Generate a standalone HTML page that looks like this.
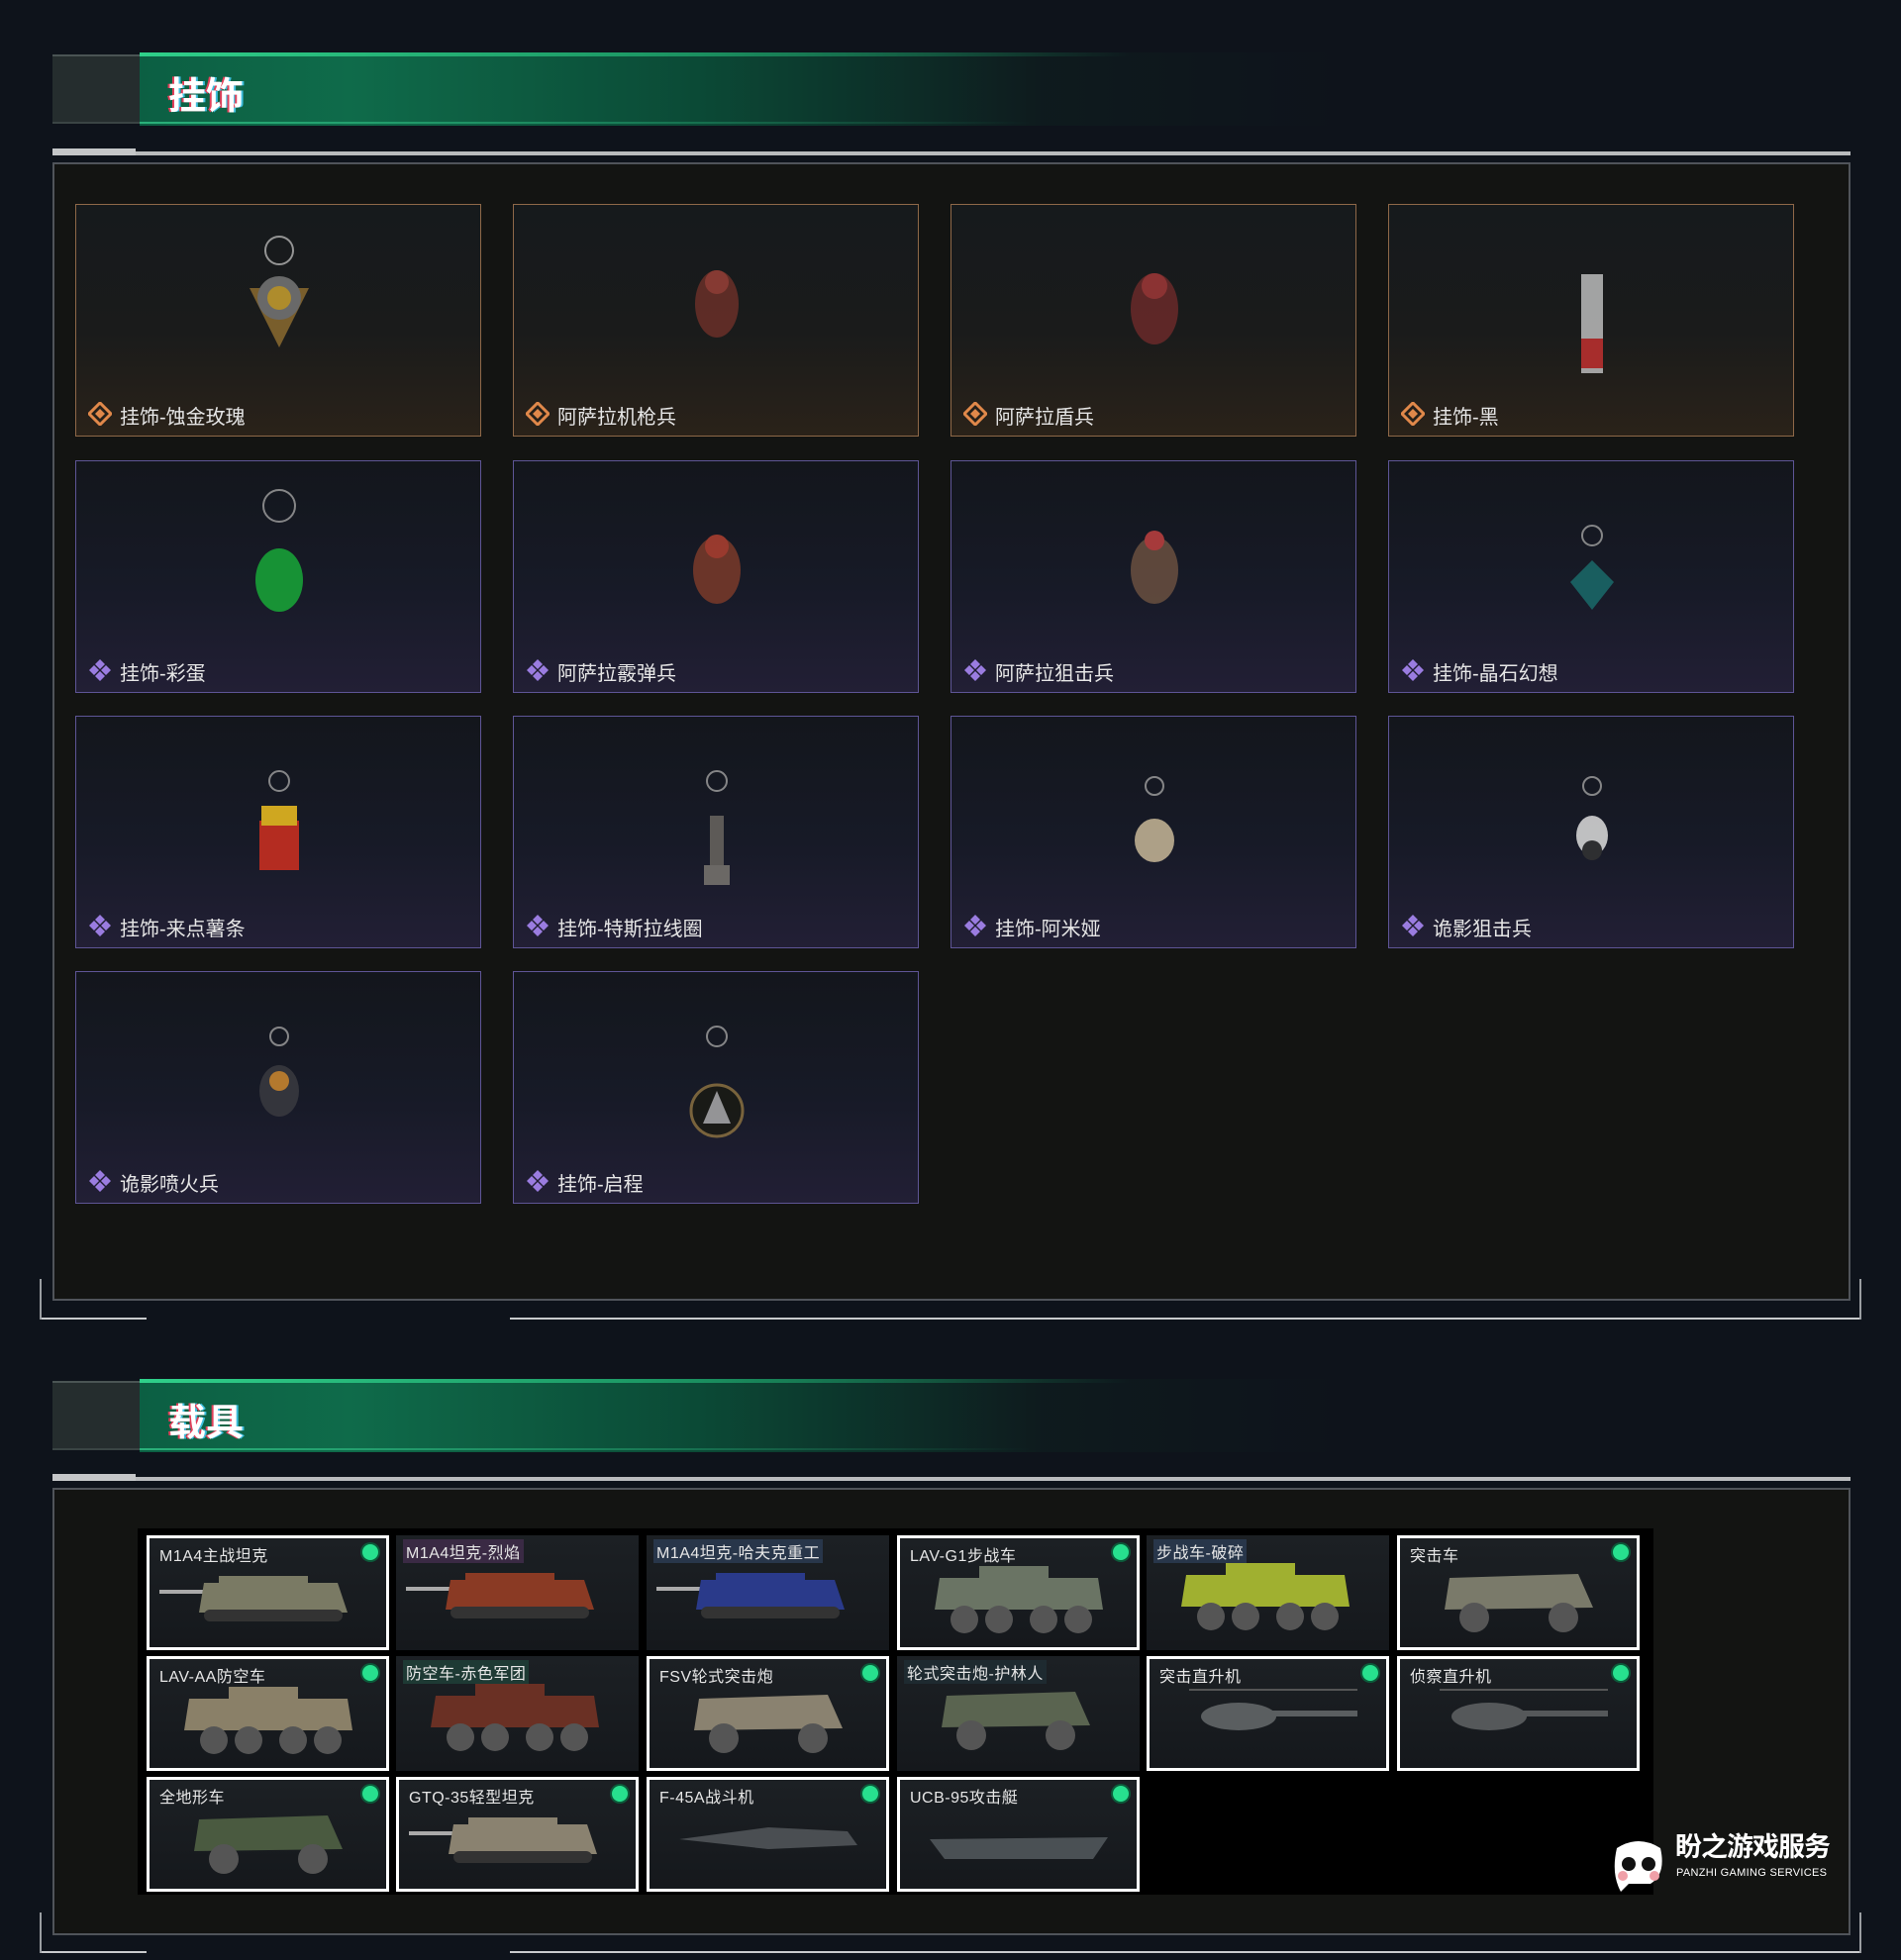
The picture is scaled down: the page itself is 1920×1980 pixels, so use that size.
<!DOCTYPE html>
<html><head><meta charset="utf-8">
<style>
*{margin:0;padding:0;box-sizing:border-box}
body{width:1920px;height:1980px;background:#0e131b;position:relative;overflow:hidden;font-family:"Liberation Sans","Noto Sans CJK SC",sans-serif;color:#e8e8e8}
.abs{position:absolute}
.hdr{position:absolute;left:53px;width:1602px;height:74px;background:linear-gradient(90deg,rgba(0,0,0,0) 0,rgba(0,0,0,0) 88px,#0c5f43 88px,#0f6b4a 300px,#0b4a36 650px,rgba(14,40,34,.35) 1000px,rgba(14,19,27,0) 1300px)}
.hdr .stub{position:absolute;left:0;top:2px;width:88px;height:70px;background:#252d2e;border-top:2px solid #4a5454;border-bottom:2px solid #3a4444}
.hdr .tl{position:absolute;left:88px;top:0;width:1000px;height:4px;background:linear-gradient(90deg,#2fd08a,#1d9a66 50%,rgba(20,80,60,0))}
.hdr .bl{position:absolute;left:88px;bottom:2px;width:900px;height:2px;background:linear-gradient(90deg,#2ab07a,rgba(20,80,60,0))}
.hdr .t{position:absolute;left:117px;top:13px;font-size:38px;font-weight:bold;color:#fff;text-shadow:-2px 0 #e0405a,2px 0 #40c0e0}
.rule{position:absolute;left:53px;width:1816px;height:4px;background:#b9bbbd}
.rule:before{content:"";position:absolute;left:0;top:-3px;width:84px;height:7px;background:#c4c6c8}
.panel{position:absolute;left:53px;width:1816px;background:#131412;border:2px solid #50545a}
.brk{position:absolute;left:40px;width:1840px;height:2px;background:#c8cacc}
.brkl{position:absolute;width:2px;background:#9a9ea2}
.card{position:absolute;width:410px;height:235px;border:1.5px solid}
.card.o{border-color:#8e6848;background:linear-gradient(180deg,#161a1c 0%,#1a1b1b 55%,#2a2219 100%)}
.card.p{border-color:#5e5596;background:linear-gradient(180deg,#13161c 0%,#171a27 55%,#221f35 100%)}
.card .lb{position:absolute;left:44px;top:198px;font-size:20px;color:#e6e6e6}
.card .ic{position:absolute;left:12px;top:199px;width:24px;height:24px}
.card svg.abs{opacity:.85}
.vg{position:absolute;left:139px;top:1544px;width:1531px;height:370px;background:#000}
.v{position:absolute;width:245px;height:116px;background:linear-gradient(180deg,#1c2024,#15181c);overflow:hidden}
.v.w{border:3px solid #fff}
.v .n{position:absolute;left:7px;top:4px;font-size:16px;color:#e6e6e6;padding:0 3px;letter-spacing:.5px}
.v .d{position:absolute;right:8px;top:6px;width:16px;height:16px;border-radius:50%;background:#27e08e;box-shadow:0 0 0 2px #0c5a3a}
.v svg{position:absolute;left:0;top:0}
</style></head><body>

<div class="hdr" style="top:53px"><div class="stub"></div><div class="tl"></div><div class="bl"></div><div class="t">挂饰</div></div>
<div class="rule" style="top:153px"></div>
<div class="panel" style="top:164px;height:1150px"></div>
<div class="brk" style="top:1331px;left:40px;width:108px"></div>
<div class="brk" style="top:1331px;left:515px;width:1365px"></div>
<div class="brkl" style="left:40px;top:1292px;height:41px"></div>
<div class="brkl" style="left:1878px;top:1292px;height:41px"></div>

<svg width="0" height="0" style="position:absolute"><defs>
<g id="io"><path d="M12 1 L23 12 L12 23 L1 12Z" fill="none" stroke="#e0884a" stroke-width="3"/><path d="M12 7 L17 12 L12 17 L7 12Z" fill="#e0884a"/></g>
<g id="ip"><path d="M12 1l5 5-5 5-5-5z M6 7l5 5-5 5-5-5z M18 7l5 5-5 5-5-5z M12 13l5 5-5 5-5-5z" fill="#9a7ce0"/></g>
</defs></svg>

<div class="card o" style="left:76px;top:206px"><svg class="abs" style="left:155px;top:24px" width="100" height="130"><circle cx="50" cy="22" r="14" fill="none" stroke="#aaa" stroke-width="2"/><path d="M20 60 L80 60 L50 120Z" fill="#8a6a30"/><circle cx="50" cy="70" r="22" fill="#777"/><circle cx="50" cy="70" r="12" fill="#c8a030"/></svg><svg class="ic"><use href="#io"/></svg><div class="lb">挂饰-蚀金玫瑰</div></div>
<div class="card o" style="left:518px;top:206px"><svg class="abs" style="left:170px;top:50px" width="70" height="100"><ellipse cx="35" cy="50" rx="22" ry="34" fill="#6a3028"/><circle cx="35" cy="28" r="12" fill="#9a4038"/></svg><svg class="ic"><use href="#io"/></svg><div class="lb">阿萨拉机枪兵</div></div>
<div class="card o" style="left:960px;top:206px"><svg class="abs" style="left:165px;top:50px" width="80" height="110"><ellipse cx="40" cy="55" rx="24" ry="36" fill="#6a2a2a"/><circle cx="40" cy="32" r="13" fill="#a03838"/></svg><svg class="ic"><use href="#io"/></svg><div class="lb">阿萨拉盾兵</div></div>
<div class="card o" style="left:1402px;top:206px"><svg class="abs" style="left:180px;top:40px" width="50" height="140"><rect x="14" y="30" width="22" height="100" fill="#bbb"/><rect x="14" y="95" width="22" height="30" fill="#c03030"/></svg><svg class="ic"><use href="#io"/></svg><div class="lb">挂饰-黑</div></div>

<div class="card p" style="left:76px;top:465px"><svg class="abs" style="left:175px;top:15px" width="60" height="140"><circle cx="30" cy="30" r="16" fill="none" stroke="#999" stroke-width="2"/><ellipse cx="30" cy="105" rx="24" ry="32" fill="#18a838"/></svg><svg class="ic"><use href="#ip"/></svg><div class="lb">挂饰-彩蛋</div></div>
<div class="card p" style="left:518px;top:465px"><svg class="abs" style="left:165px;top:50px" width="80" height="110"><ellipse cx="40" cy="60" rx="24" ry="34" fill="#7a3a2a"/><circle cx="40" cy="36" r="12" fill="#b04030"/></svg><svg class="ic"><use href="#ip"/></svg><div class="lb">阿萨拉霰弹兵</div></div>
<div class="card p" style="left:960px;top:465px"><svg class="abs" style="left:165px;top:50px" width="80" height="110"><ellipse cx="40" cy="60" rx="24" ry="34" fill="#6a5040"/><circle cx="40" cy="30" r="10" fill="#c04040"/></svg><svg class="ic"><use href="#ip"/></svg><div class="lb">阿萨拉狙击兵</div></div>
<div class="card p" style="left:1402px;top:465px"><svg class="abs" style="left:175px;top:50px" width="60" height="110"><circle cx="30" cy="25" r="10" fill="none" stroke="#999" stroke-width="2"/><path d="M30 50 L52 72 L30 100 L8 72Z" fill="#1a6a6a"/></svg><svg class="ic"><use href="#ip"/></svg><div class="lb">挂饰-晶石幻想</div></div>

<div class="card p" style="left:76px;top:723px"><svg class="abs" style="left:175px;top:45px" width="60" height="120"><circle cx="30" cy="20" r="10" fill="none" stroke="#999" stroke-width="2"/><rect x="10" y="60" width="40" height="50" fill="#d03020"/><rect x="12" y="45" width="36" height="20" fill="#f0c020"/></svg><svg class="ic"><use href="#ip"/></svg><div class="lb">挂饰-来点薯条</div></div>
<div class="card p" style="left:518px;top:723px"><svg class="abs" style="left:180px;top:45px" width="50" height="130"><circle cx="25" cy="20" r="10" fill="none" stroke="#999" stroke-width="2"/><rect x="18" y="55" width="14" height="60" fill="#6a6660"/><rect x="12" y="105" width="26" height="20" fill="#7a7670"/></svg><svg class="ic"><use href="#ip"/></svg><div class="lb">挂饰-特斯拉线圈</div></div>
<div class="card p" style="left:960px;top:723px"><svg class="abs" style="left:175px;top:55px" width="60" height="100"><circle cx="30" cy="15" r="9" fill="none" stroke="#999" stroke-width="2"/><ellipse cx="30" cy="70" rx="20" ry="22" fill="#c8b898"/></svg><svg class="ic"><use href="#ip"/></svg><div class="lb">挂饰-阿米娅</div></div>
<div class="card p" style="left:1402px;top:723px"><svg class="abs" style="left:175px;top:55px" width="60" height="100"><circle cx="30" cy="15" r="9" fill="none" stroke="#999" stroke-width="2"/><ellipse cx="30" cy="65" rx="16" ry="20" fill="#ddd"/><circle cx="30" cy="80" r="10" fill="#333"/></svg><svg class="ic"><use href="#ip"/></svg><div class="lb">诡影狙击兵</div></div>

<div class="card p" style="left:76px;top:981px"><svg class="abs" style="left:170px;top:50px" width="70" height="110"><circle cx="35" cy="15" r="9" fill="none" stroke="#999" stroke-width="2"/><ellipse cx="35" cy="70" rx="20" ry="26" fill="#3a3a40"/><circle cx="35" cy="60" r="10" fill="#d08a30"/></svg><svg class="ic"><use href="#ip"/></svg><div class="lb">诡影喷火兵</div></div>
<div class="card p" style="left:518px;top:981px"><svg class="abs" style="left:175px;top:45px" width="60" height="130"><circle cx="30" cy="20" r="10" fill="none" stroke="#999" stroke-width="2"/><circle cx="30" cy="95" r="26" fill="#1a1a14" stroke="#8a7040" stroke-width="3"/><path d="M30 75 L44 108 L16 108Z" fill="#aaa"/></svg><svg class="ic"><use href="#ip"/></svg><div class="lb">挂饰-启程</div></div>

<div class="hdr" style="top:1393px"><div class="stub"></div><div class="tl"></div><div class="bl"></div><div class="t">载具</div></div>
<div class="rule" style="top:1492px"></div>
<div class="panel" style="top:1503px;height:452px"></div>
<div class="brk" style="top:1971px;left:40px;width:108px"></div>
<div class="brk" style="top:1971px;left:515px;width:1365px"></div>
<div class="brkl" style="left:40px;top:1932px;height:41px"></div>
<div class="brkl" style="left:1878px;top:1932px;height:41px"></div>

<svg width="0" height="0" style="position:absolute"><defs>
<g id="tank"><rect x="10" y="52" width="150" height="4" fill="#aaa"/><path d="M55 45 L190 45 L200 75 L50 75Z" fill="currentColor"/><rect x="70" y="38" width="90" height="16" fill="currentColor"/><rect x="55" y="72" width="140" height="12" rx="6" fill="#333"/></g>
<g id="apc"><path d="M40 40 L200 40 L205 72 L35 72Z" fill="currentColor"/><rect x="80" y="28" width="70" height="14" fill="currentColor"/><circle cx="65" cy="82" r="14" fill="#555"/><circle cx="100" cy="82" r="14" fill="#555"/><circle cx="145" cy="82" r="14" fill="#555"/><circle cx="180" cy="82" r="14" fill="#555"/></g>
<g id="car"><path d="M50 40 L180 36 L195 70 L45 72Z" fill="currentColor"/><circle cx="75" cy="80" r="15" fill="#555"/><circle cx="165" cy="80" r="15" fill="#555"/></g>
<g id="heli"><rect x="40" y="30" width="170" height="2" fill="#555"/><ellipse cx="90" cy="58" rx="38" ry="14" fill="currentColor"/><rect x="110" y="52" width="100" height="6" fill="currentColor"/></g>
<g id="jet"><path d="M30 60 L120 48 L200 52 L210 66 L120 70Z" fill="currentColor"/></g>
<g id="boat"><path d="M30 60 L210 58 L195 80 L45 80Z" fill="currentColor"/></g>
</defs></svg>

<div class="vg"></div>
<div class="v w" style="left:148px;top:1551px;color:#7a7a64"><svg width="245" height="116"><use href="#tank"/></svg><div class="n">M1A4主战坦克</div><div class="d"></div></div>
<div class="v" style="left:400px;top:1551px;color:#8a3a24"><svg width="245" height="116"><use href="#tank"/></svg><div class="n" style="background:#3a2a44">M1A4坦克-烈焰</div></div>
<div class="v" style="left:653px;top:1551px;color:#2a3a8a"><svg width="245" height="116"><use href="#tank"/></svg><div class="n" style="background:#28364a">M1A4坦克-哈夫克重工</div></div>
<div class="v w" style="left:906px;top:1551px;color:#6a7464"><svg width="245" height="116"><use href="#apc"/></svg><div class="n">LAV-G1步战车</div><div class="d"></div></div>
<div class="v" style="left:1158px;top:1551px;color:#a0b030"><svg width="245" height="116"><use href="#apc"/></svg><div class="n" style="background:#28364a">步战车-破碎</div></div>
<div class="v w" style="left:1411px;top:1551px;color:#7a7a6a"><svg width="245" height="116"><use href="#car"/></svg><div class="n">突击车</div><div class="d"></div></div>

<div class="v w" style="left:148px;top:1673px;color:#8a8068"><svg width="245" height="116"><use href="#apc"/></svg><div class="n">LAV-AA防空车</div><div class="d"></div></div>
<div class="v" style="left:400px;top:1673px;color:#6a3024"><svg width="245" height="116"><use href="#apc"/></svg><div class="n" style="background:#1e3a34">防空车-赤色军团</div></div>
<div class="v w" style="left:653px;top:1673px;color:#8a8270"><svg width="245" height="116"><use href="#car"/></svg><div class="n">FSV轮式突击炮</div><div class="d"></div></div>
<div class="v" style="left:906px;top:1673px;color:#5a6450"><svg width="245" height="116"><use href="#car"/></svg><div class="n" style="background:#1e2a30">轮式突击炮-护林人</div></div>
<div class="v w" style="left:1158px;top:1673px;color:#5a5e60"><svg width="245" height="116"><use href="#heli"/></svg><div class="n">突击直升机</div><div class="d"></div></div>
<div class="v w" style="left:1411px;top:1673px;color:#55585a"><svg width="245" height="116"><use href="#heli"/></svg><div class="n">侦察直升机</div><div class="d"></div></div>

<div class="v w" style="left:148px;top:1795px;color:#4a5a40"><svg width="245" height="116"><use href="#car"/></svg><div class="n">全地形车</div><div class="d"></div></div>
<div class="v w" style="left:400px;top:1795px;color:#8a8270"><svg width="245" height="116"><use href="#tank"/></svg><div class="n">GTQ-35轻型坦克</div><div class="d"></div></div>
<div class="v w" style="left:653px;top:1795px;color:#4a4e52"><svg width="245" height="116"><use href="#jet"/></svg><div class="n">F-45A战斗机</div><div class="d"></div></div>
<div class="v w" style="left:906px;top:1795px;color:#4a5054"><svg width="245" height="116"><use href="#boat"/></svg><div class="n">UCB-95攻击艇</div><div class="d"></div></div>

<svg class="abs" style="left:1627px;top:1853px" width="56" height="60"><path d="M6 14 Q28 0 50 14 Q56 40 40 50 L18 50 L10 58 Q0 40 6 14Z" fill="#fff"/><circle cx="18" cy="30" r="7" fill="#111"/><circle cx="38" cy="30" r="7" fill="#111"/><circle cx="12" cy="42" r="5" fill="#f0a0a8"/><circle cx="44" cy="42" r="5" fill="#f0a0a8"/></svg>
<div class="abs" style="left:1692px;top:1851px;font-size:27px;line-height:30px;font-weight:bold;color:#fff;letter-spacing:-1px">盼之游戏服务</div>
<div class="abs" style="left:1693px;top:1886px;font-size:11px;line-height:12px;color:#fff;letter-spacing:.3px">PANZHI GAMING SERVICES</div>
</body></html>
